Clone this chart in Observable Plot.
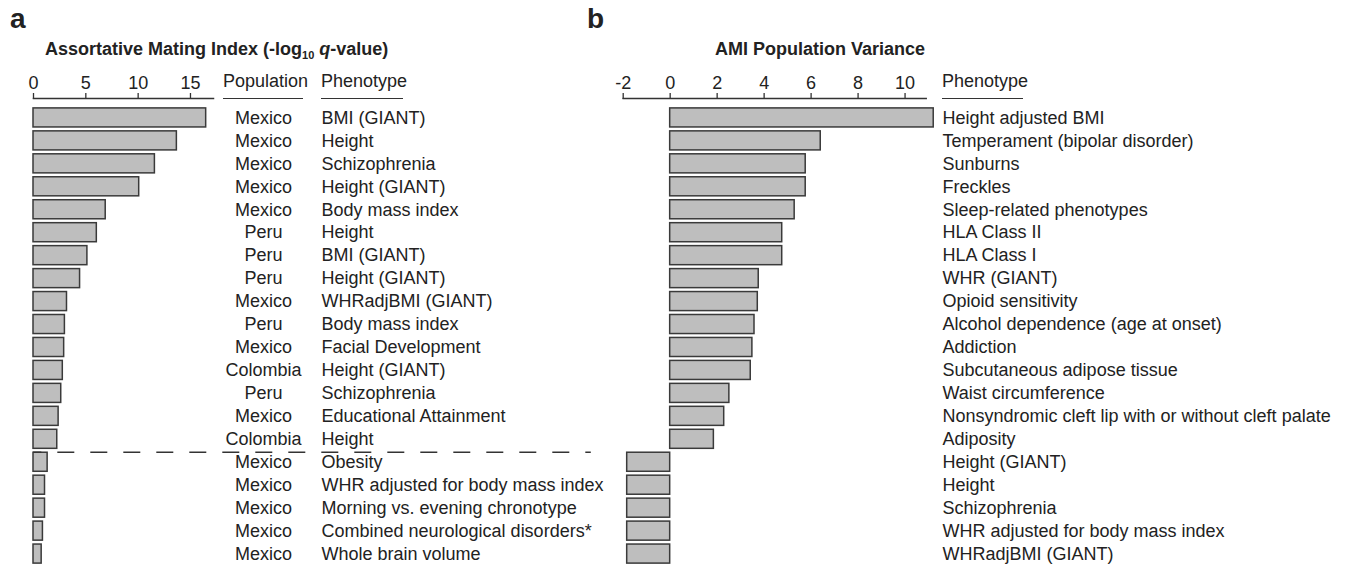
<!DOCTYPE html>
<html>
<head>
<meta charset="utf-8">
<script src="https://cdn.jsdelivr.net/npm/d3@7"></script>
<script src="https://cdn.jsdelivr.net/npm/@observablehq/plot@0.6"></script>
<style>
  html, body { margin: 0; padding: 0; background: #fff; overflow: hidden; }
  #wrap { position: relative; width: 1350px; height: 567px; font-family: "Liberation Sans", Arial, sans-serif; color: #222; }
  #wrap svg { position: absolute; left: 0; top: 0; }
  .lbl { position: absolute; line-height: 1; white-space: nowrap; }
  .panel { font-size: 28px; font-weight: bold; }
  .title { font-size: 18px; font-weight: bold; }
  .hdr { font-size: 18px; }
  .uline { position: absolute; height: 0; border-top: 1.5px solid #333; }
  sub { font-size: 11px; vertical-align: -4px; line-height: 0; }
</style>
</head>
<body>
<div id="wrap">
  <div class="lbl panel" style="left:10px; top:4.6px;">a</div>
  <div class="lbl panel" style="left:587px; top:4.6px;">b</div>
  <div class="lbl title" style="left:45px; top:39.8px;">Assortative Mating Index (-log<sub>10</sub> <i>q</i>-value)</div>
  <div class="lbl title" style="left:715px; top:39.8px;">AMI Population Variance</div>
  <div class="lbl hdr" style="left:223px; top:72px;">Population</div>
  <div class="lbl hdr" style="left:321px; top:72px;">Phenotype</div>
  <div class="lbl hdr" style="left:942px; top:72px;">Phenotype</div>
  <div class="uline" style="left:223px; width:80px; top:97.5px;"></div>
  <div class="uline" style="left:321px; width:82px; top:97.5px;"></div>
  <div class="uline" style="left:942px; width:81px; top:97.5px;"></div>
</div>
<script>
// ---- Panel a data ----
const popA = ["Mexico","Mexico","Mexico","Mexico","Mexico","Peru","Peru","Peru","Mexico","Peru",
  "Mexico","Colombia","Peru","Mexico","Colombia","Mexico","Mexico","Mexico","Mexico","Mexico"];
const phenoA = ["BMI (GIANT)","Height","Schizophrenia","Height (GIANT)","Body mass index","Height",
  "BMI (GIANT)","Height (GIANT)","WHRadjBMI (GIANT)","Body mass index","Facial Development",
  "Height (GIANT)","Schizophrenia","Educational Attainment","Height","Obesity",
  "WHR adjusted for body mass index","Morning vs. evening chronotype",
  "Combined neurological disorders*","Whole brain volume"];
const amiA = [16.5,13.7,11.6,10.1,6.9,6.05,5.15,4.45,3.2,3.0,2.93,2.8,2.65,2.4,2.27,1.35,1.1,1.1,0.9,0.78];
const ticksA = [0,5,10,15];
const domainA = [0, 17.2];
const thresholdRow = 15;      // first non-significant row
const thresholdEnd = 53.3;    // extent of dashed significance line (data units)

// ---- Panel b data ----
const phenoB = ["Height adjusted BMI","Temperament (bipolar disorder)","Sunburns","Freckles",
  "Sleep-related phenotypes","HLA Class II","HLA Class I","WHR (GIANT)","Opioid sensitivity",
  "Alcohol dependence (age at onset)","Addiction","Subcutaneous adipose tissue",
  "Waist circumference","Nonsyndromic cleft lip with or without cleft palate","Adiposity",
  "Height (GIANT)","Height","Schizophrenia","WHR adjusted for body mass index","WHRadjBMI (GIANT)"];
const varB = [11.22,6.41,5.77,5.77,5.3,4.77,4.77,3.77,3.73,3.59,3.5,3.43,2.52,2.3,1.86,-1.83,-1.83,-1.83,-1.83,-1.83];
const ticksB = [-2,0,2,4,6,8,10];
const domainB = [-2, 10.9];

const barFill = "#bebebe", barStroke = "#3a3a3a", ink = "#222";
const style = {fontFamily: "Liberation Sans, Arial, sans-serif", fontSize: "18px", color: ink, background: "transparent", overflow: "visible"};

const idxA = d3.range(popA.length);
const idxB = d3.range(phenoB.length);

const plotA = Plot.plot({
  width: 1350, height: 567,
  marginLeft: 33, marginRight: 1350 - 213, marginTop: 98, marginBottom: 0,
  x: {domain: domainA},
  y: {domain: idxA, padding: 0.17, insetTop: 6, round: false, axis: null},
  style,
  marks: [
    Plot.frame({anchor: "top", stroke: "#333", strokeWidth: 1.5}),
    Plot.axisX({anchor: "top", ticks: ticksA, tickSize: 6, tickPadding: 4, label: null,
      tickFormat: d => String(d), stroke: "#333", strokeWidth: 1.3, fill: ink}),
    Plot.barX(idxA, {x: i => amiA[i], y: i => i, fill: barFill, stroke: barStroke, strokeWidth: 1.5}),
    Plot.ruleY([thresholdRow], {y: d => d, x1: 0, x2: thresholdEnd, dy: -10, stroke: "#333",
      strokeWidth: 1.5, strokeDasharray: "17,16", strokeDashoffset: 8.7}),
    Plot.text(idxA, {y: i => i, text: i => popA[i], frameAnchor: "right", dx: 50, textAnchor: "middle", fill: ink}),
    Plot.text(idxA, {y: i => i, text: i => phenoA[i], frameAnchor: "right", dx: 108, textAnchor: "start", fill: ink})
  ]
});

const plotB = Plot.plot({
  width: 1350, height: 567,
  marginLeft: 622.7, marginRight: 1350 - 925.7, marginTop: 98, marginBottom: 0,
  x: {domain: domainB},
  y: {domain: idxB, padding: 0.17, insetTop: 6, round: false, axis: null},
  style,
  marks: [
    Plot.frame({anchor: "top", stroke: "#333", strokeWidth: 1.5}),
    Plot.axisX({anchor: "top", ticks: ticksB, tickSize: 6, tickPadding: 4, label: null,
      tickFormat: d => String(d), stroke: "#333", strokeWidth: 1.3, fill: ink}),
    Plot.barX(idxB, {x: i => varB[i], y: i => i, fill: barFill, stroke: barStroke, strokeWidth: 1.5}),
    Plot.text(idxB, {y: i => i, text: i => phenoB[i], frameAnchor: "right", dx: 16.3, textAnchor: "start", fill: ink})
  ]
});

const wrap = document.getElementById("wrap");
wrap.appendChild(plotA);
wrap.appendChild(plotB);
</script>
</body>
</html>
